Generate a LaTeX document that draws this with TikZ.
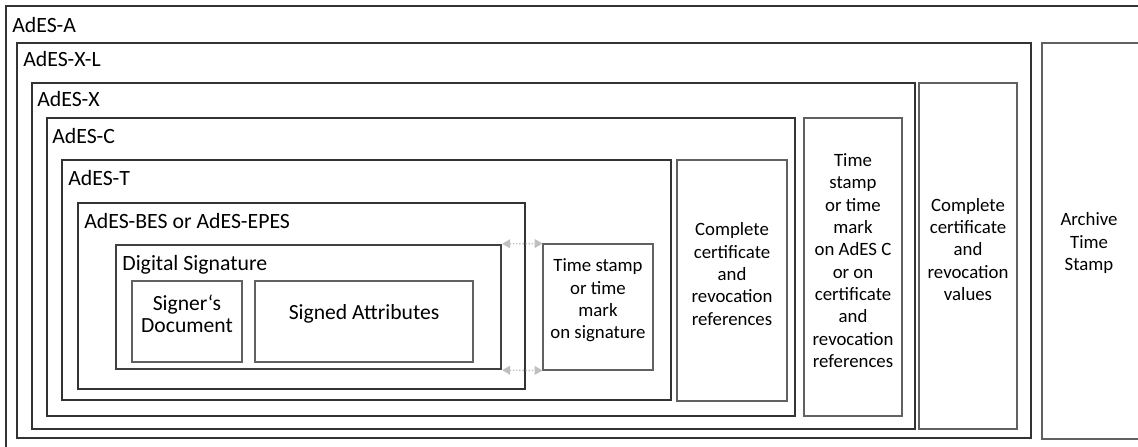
\documentclass[tikz,border=0pt]{standalone}
\usepackage{fontspec}
\setmainfont{Carlito}
\usetikzlibrary{arrows.meta, positioning, fit, shadows}
\colorlet{cFrame}{black!80}
\colorlet{cBox}{black!62}
\colorlet{cLink}{black!25}
\tikzset{
  frame/.style={draw=cFrame, fill=white, line width=0.6pt, inner sep=0pt,
    drop shadow={shadow xshift=0.7pt, shadow yshift=-0.7pt, opacity=0.3, fill=black!35}},
  sigframe/.style={frame, draw=black!75, line width=1.3pt},
  textbox/.style={frame, draw=cBox, align=center, font=\fontsize{10.7}{12.7}\selectfont},
  bigbox/.style={textbox, font=\fontsize{12.3}{12.6}\selectfont},
  lbl/.style={anchor=base west, inner sep=0pt, font=\fontsize{12.4}{14}\selectfont},
  link/.style={cLink, densely dotted, line width=0.8pt,
    {Triangle[length=4.5pt,width=5pt]}-{Triangle[length=4.5pt,width=5pt]}}
}

\begin{document}
\begin{tikzpicture}[x=0.02cm, y=-0.02cm]
  \useasboundingbox (0,0) rectangle (1138,446);
  \clip (0,0) rectangle (1138,446);
  % outer levels
  \node[frame, fit={(6,6) (1160,470)}] (adesA) {};
  \node[lbl] (labA) at (12,33) {AdES-A};
  \node[frame, fit={(17,43) (1031,438)}] (adesXL) {};
  \node[lbl] (labXL) at (23,67) {AdES-X-L};
  \node[frame, draw=cBox, fit={(1042,43) (1160,439)}] (archive) {};
  \node[align=center, font=\fontsize{10.7}{12.7}\selectfont] (archiveTxt) at (1089,243) {Archive\\Time\\Stamp};
  \node[frame, fit={(32,83) (915,429)}] (adesX) {};
  \node[lbl] (labX) at (37,107) {AdES-X};
  \node[textbox, fit={(919,83) (1017,429)}] (values) {Complete\\certificate\\and\\revocation\\values};
  \node[frame, fit={(47,118) (795,416)}] (adesC) {};
  \node[lbl] (labC) at (52,143) {AdES-C};
  \node[textbox, fit={(804,118) (902,416)}] (tsC) {Time\\stamp\\or time\\mark\\on AdES C\\or on\\certificate\\and\\revocation\\references};
  \node[frame, fit={(62,160) (671,400)}] (adesT) {};
  \node[lbl] (labT) at (68,185) {AdES-T};
  \node[textbox, fit={(677,160) (787,401)}] (refs) {Complete\\certificate\\and\\revocation\\references};
  % signature core
  \node[frame, fit={(78,203) (525,389)}] (bes) {};
  \node[lbl] (labBES) at (84,228) {AdES-BES or AdES-EPES};
  \node[textbox, fit={(543,244) (653,370)}] (tsSig) {Time stamp\\or time\\mark\\on signature};
  \node[sigframe, fit={(116,245) (501,369)}] (dsig) {};
  \node[lbl] (labSig) at (122,270) {Digital Signature};
  \node[bigbox, fit={(132,281) (242,362)}] (doc) {Signer‘s\\Document};
  \node[bigbox, fit={(255,281) (473,362)}] (attr) {Signed Attributes};
  \draw[link] (dsig.north east) -- (tsSig.north west);
  \draw[link] (dsig.south east) -- (tsSig.south west);
\end{tikzpicture}
\end{document}
